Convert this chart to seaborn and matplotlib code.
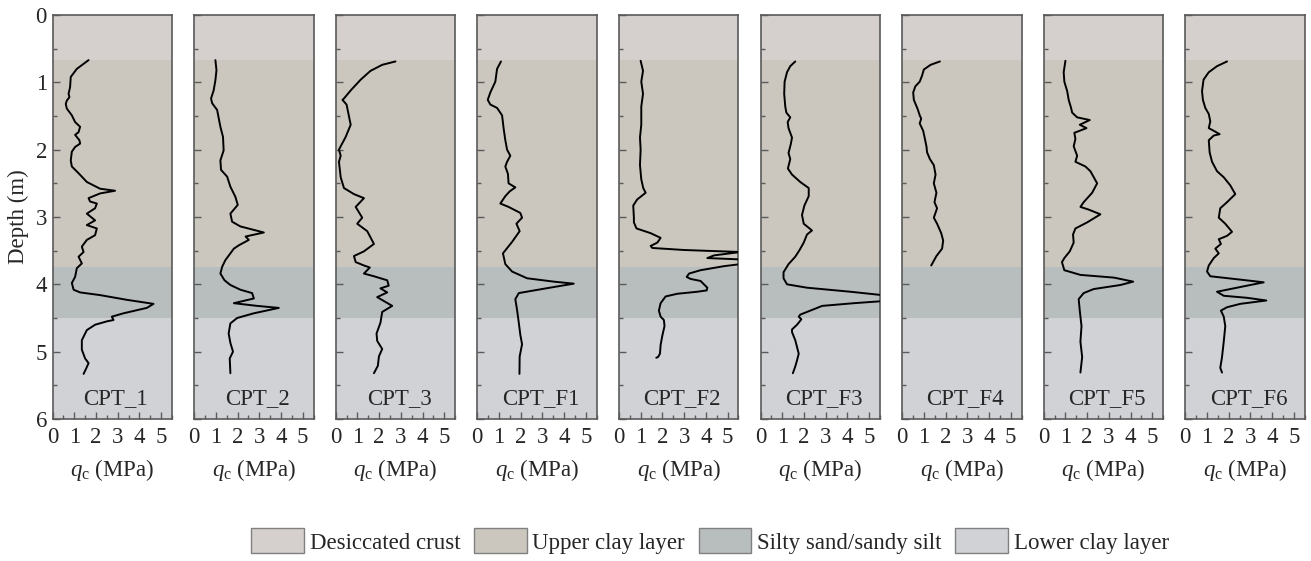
import matplotlib
matplotlib.use("Agg")
import matplotlib.pyplot as plt
from matplotlib.patches import Patch
from matplotlib.ticker import MultipleLocator
import seaborn as sns
import pandas as pd

# ---- CPT profiles: depth (m) and cone resistance q_c (MPa) ----
cpt1_depth = [0.67, 0.80, 0.92, 1.07, 1.17, 1.22, 1.27, 1.32, 1.39, 1.49, 1.59, 1.66, 1.74, 1.78, 1.86, 1.91,
              1.96, 2.03, 2.16, 2.25, 2.35, 2.48, 2.58, 2.61, 2.65, 2.72, 2.77, 2.80, 2.87, 2.95, 3.05, 3.12,
              3.17, 3.27, 3.34, 3.44, 3.52, 3.59, 3.69, 3.76, 3.89, 3.98, 4.08, 4.12, 4.16, 4.23, 4.29, 4.35,
              4.43, 4.48, 4.53, 4.55, 4.60, 4.68, 4.83, 4.97, 5.10, 5.17, 5.25, 5.33]
cpt1_qc = [1.66, 1.12, 0.84, 0.81, 0.74, 0.78, 0.66, 0.61, 0.66, 0.89, 1.04, 1.27, 1.20, 1.04, 1.24, 1.27,
           1.04, 0.89, 0.84, 0.89, 1.20, 1.58, 2.19, 2.88, 2.19, 1.66, 1.73, 2.04, 1.96, 1.58, 1.96, 1.58,
           2.04, 1.96, 1.58, 1.35, 1.43, 1.20, 1.35, 1.12, 1.04, 0.89, 0.97, 1.27, 2.19, 3.42, 4.65, 4.34,
           3.27, 2.73, 2.81, 2.50, 1.96, 1.58, 1.35, 1.35, 1.50, 1.66, 1.55, 1.43]

cpt2_depth = [0.67, 0.82, 0.97, 1.12, 1.24, 1.31, 1.41, 1.66, 1.81, 2.01, 2.16, 2.30, 2.40, 2.55, 2.70, 2.82,
              2.95, 3.07, 3.14, 3.23, 3.29, 3.34, 3.42, 3.47, 3.54, 3.64, 3.74, 3.84, 3.94, 4.01, 4.08, 4.13,
              4.21, 4.28, 4.32, 4.35, 4.43, 4.50, 4.58, 4.73, 4.87, 5.00, 5.10, 5.32]
cpt2_qc = [0.98, 1.03, 0.98, 0.90, 0.78, 0.83, 1.06, 1.21, 1.33, 1.36, 1.21, 1.24, 1.52, 1.67, 1.90, 2.01,
           1.67, 1.75, 2.13, 3.21, 2.37, 2.52, 2.06, 1.83, 1.67, 1.44, 1.29, 1.21, 1.40, 1.67, 2.13, 2.67,
           2.75, 1.83, 2.90, 3.90, 2.75, 1.98, 1.67, 1.59, 1.67, 1.79, 1.64, 1.67]

cpt3_depth = [0.69, 0.74, 0.83, 0.96, 1.12, 1.24, 1.26, 1.33, 1.63, 1.81, 1.95, 2.00, 2.09, 2.18, 2.41, 2.57,
              2.66, 2.72, 2.85, 3.01, 3.10, 3.21, 3.40, 3.51, 3.58, 3.67, 3.72, 3.75, 3.84, 3.88, 3.94, 4.02,
              4.06, 4.12, 4.19, 4.32, 4.41, 4.57, 4.73, 4.84, 4.96, 5.07, 5.21, 5.32]
cpt3_qc = [2.75, 2.14, 1.60, 1.15, 0.69, 0.38, 0.31, 0.50, 0.69, 0.46, 0.23, 0.15, 0.23, 0.15, 0.23, 0.38,
           0.84, 1.30, 0.92, 1.22, 0.99, 1.45, 1.76, 1.30, 0.84, 0.92, 1.30, 1.57, 1.30, 1.76, 2.37, 2.44,
           2.06, 2.37, 1.91, 2.60, 2.14, 2.06, 1.88, 1.91, 2.14, 1.99, 1.94, 1.76]

cptf1_depth = [0.69, 0.80, 0.99, 1.15, 1.26, 1.33, 1.38, 1.49, 1.68, 1.86, 2.00, 2.09, 2.18, 2.25, 2.36, 2.50,
               2.56, 2.62, 2.69, 2.80, 2.85, 2.94, 3.01, 3.10, 3.21, 3.37, 3.54, 3.70, 3.81, 3.91, 3.96, 3.99,
               4.04, 4.10, 4.13, 4.22, 4.38, 4.57, 4.75, 4.89, 5.07, 5.33]
cptf1_qc = [1.09, 0.91, 0.83, 0.60, 0.48, 0.60, 0.91, 1.14, 1.21, 1.29, 1.37, 1.52, 1.37, 1.29, 1.41, 1.44,
            1.75, 1.49, 1.29, 1.06, 1.44, 1.98, 2.06, 1.80, 1.95, 1.60, 1.18, 1.29, 1.60, 2.29, 3.52, 4.44,
            3.52, 2.44, 1.91, 1.75, 1.83, 1.91, 1.98, 2.06, 1.95, 1.94]

cptf2_depth = [0.68, 0.83, 0.99, 1.17, 1.36, 1.63, 1.82, 2.00, 2.23, 2.44, 2.57, 2.64, 2.74, 2.83, 3.01, 3.08,
               3.17, 3.24, 3.31, 3.38, 3.43, 3.46, 3.49, 3.52, 3.57, 3.61, 3.63, 3.70, 3.73, 3.79, 3.84, 3.89,
               3.92, 3.95, 4.05, 4.09, 4.11, 4.14, 4.18, 4.28, 4.39, 4.48, 4.53, 4.62, 4.76, 4.90, 5.03, 5.08,
               5.09]
cptf2_qc = [1.00, 1.11, 1.03, 1.11, 1.03, 1.03, 0.97, 1.00, 0.97, 1.03, 1.12, 1.23, 0.84, 0.66, 0.69, 0.69,
            0.81, 1.46, 1.92, 1.77, 1.46, 1.54, 3.00, 5.60, 4.38, 4.07, 5.60, 5.60, 4.84, 3.76, 3.23, 3.12,
            3.30, 3.76, 4.07, 4.04, 3.61, 2.69, 2.15, 1.92, 1.84, 1.92, 2.07, 2.10, 2.00, 1.92, 1.89, 1.80,
            1.72]

cptf3_depth = [0.69, 0.76, 0.85, 0.99, 1.17, 1.36, 1.45, 1.52, 1.59, 1.68, 1.82, 1.91, 2.05, 2.14, 2.28, 2.37,
               2.48, 2.57, 2.69, 2.83, 2.97, 3.10, 3.20, 3.26, 3.38, 3.49, 3.59, 3.70, 3.82, 3.91, 4.00, 4.05,
               4.11, 4.16, 4.25, 4.28, 4.32, 4.37, 4.45, 4.48, 4.52, 4.60, 4.67, 4.71, 4.83, 5.03, 5.13, 5.22,
               5.32]
cptf3_qc = [1.60, 1.37, 1.22, 1.11, 1.09, 1.14, 1.19, 1.37, 1.25, 1.29, 1.45, 1.40, 1.29, 1.37, 1.26, 1.45,
            1.83, 2.22, 2.22, 2.02, 1.91, 1.99, 2.37, 2.14, 1.99, 1.80, 1.60, 1.29, 1.06, 1.06, 1.22, 2.14,
            4.14, 5.60, 5.60, 4.30, 2.84, 2.45, 1.83, 1.76, 1.88, 1.68, 1.45, 1.45, 1.60, 1.76, 1.68, 1.60,
            1.49]

cptf4_depth = [0.69, 0.74, 0.81, 0.90, 0.99, 1.06, 1.15, 1.26, 1.40, 1.49, 1.54, 1.61, 1.72, 1.81, 1.95, 2.04,
               2.14, 2.23, 2.37, 2.50, 2.64, 2.78, 2.87, 3.01, 3.10, 3.24, 3.35, 3.47, 3.58, 3.72]
cptf4_qc = [1.74, 1.31, 1.00, 0.92, 0.81, 0.61, 0.51, 0.54, 0.72, 0.81, 0.88, 0.81, 0.97, 1.03, 1.12, 1.15,
            1.28, 1.46, 1.54, 1.46, 1.58, 1.49, 1.61, 1.46, 1.61, 1.80, 1.89, 1.84, 1.58, 1.34]

cptf5_depth = [0.68, 0.85, 0.99, 1.13, 1.26, 1.38, 1.45, 1.52, 1.56, 1.63, 1.68, 1.75, 1.84, 1.95, 2.09, 2.18,
               2.25, 2.32, 2.50, 2.64, 2.78, 2.85, 2.89, 2.96, 3.08, 3.17, 3.26, 3.38, 3.51, 3.61, 3.67, 3.79,
               3.86, 3.90, 3.96, 4.01, 4.07, 4.13, 4.22, 4.39, 4.62, 4.85, 5.08, 5.31]
cptf5_qc = [1.00, 0.92, 0.95, 1.08, 1.15, 1.26, 1.31, 1.54, 2.12, 1.66, 1.97, 1.41, 1.46, 1.38, 1.54, 1.46,
            1.92, 2.15, 2.46, 2.23, 1.84, 1.69, 2.07, 2.61, 2.00, 1.46, 1.35, 1.38, 1.20, 0.95, 0.84, 0.95,
            1.69, 3.23, 4.12, 3.53, 2.30, 1.84, 1.61, 1.66, 1.74, 1.69, 1.77, 1.69]

cptf6_depth = [0.69, 0.76, 0.85, 0.96, 1.13, 1.26, 1.38, 1.47, 1.58, 1.68, 1.72, 1.77, 1.79, 1.86, 2.04, 2.18,
               2.32, 2.41, 2.53, 2.66, 2.78, 2.87, 3.01, 3.10, 3.22, 3.28, 3.33, 3.40, 3.47, 3.54, 3.61, 3.72,
               3.81, 3.88, 3.93, 3.97, 4.04, 4.11, 4.17, 4.20, 4.24, 4.29, 4.34, 4.39, 4.48, 4.62, 4.85, 5.08,
               5.24, 5.31]
cptf6_qc = [1.92, 1.46, 1.08, 0.84, 0.77, 0.81, 0.92, 1.08, 1.15, 1.08, 1.31, 1.58, 1.31, 1.08, 1.12, 1.23,
            1.46, 1.77, 2.07, 2.30, 1.92, 1.61, 1.54, 1.84, 2.15, 1.92, 1.54, 1.64, 1.38, 1.54, 1.31, 1.08,
            1.00, 1.15, 2.53, 3.61, 2.53, 1.46, 1.77, 2.84, 3.73, 2.53, 1.92, 1.64, 1.77, 1.84, 1.77, 1.69,
            1.61, 1.69]

cpt_names = ["CPT_1", "CPT_2", "CPT_3", "CPT_F1", "CPT_F2", "CPT_F3", "CPT_F4", "CPT_F5", "CPT_F6"]
cpt_depths = [cpt1_depth, cpt2_depth, cpt3_depth, cptf1_depth, cptf2_depth, cptf3_depth,
              cptf4_depth, cptf5_depth, cptf6_depth]
cpt_qcs = [cpt1_qc, cpt2_qc, cpt3_qc, cptf1_qc, cptf2_qc, cptf3_qc, cptf4_qc, cptf5_qc, cptf6_qc]

# ---- soil stratigraphy ----
layer_names = ["Desiccated crust", "Upper clay layer", "Silty sand/sandy silt", "Lower clay layer"]
layer_tops = [0.0, 0.67, 3.74, 4.50]
layer_bottoms = [0.67, 3.74, 4.50, 6.0]
layer_colors = ["#d5cfcd", "#cbc7bf", "#b8bdbe", "#d0d2d6"]

# ---- style ----
sns.set_theme(style="ticks")
plt.rcParams["font.family"] = ["Liberation Serif", "DejaVu Serif"]
plt.rcParams["mathtext.fontset"] = "custom"
plt.rcParams["mathtext.rm"] = "Liberation Serif"
plt.rcParams["mathtext.it"] = "Liberation Serif:italic"
FS = 16.5
SPINE = "#5a5a5a"

W, H = 1311, 561
fig = plt.figure(figsize=(W / 100, H / 100), dpi=100)

ax_left0, ax_w, ax_step = 52.5, 119.5, 141.6
ax_top, ax_bot = 15, 419

for i, name in enumerate(cpt_names):
    ax = fig.add_axes([(ax_left0 + i * ax_step) / W, 1 - ax_bot / H,
                       ax_w / W, (ax_bot - ax_top) / H])
    for top, bot, col in zip(layer_tops, layer_bottoms, layer_colors):
        ax.axhspan(top, bot, color=col, lw=0, zorder=0)

    df = pd.DataFrame({"depth": cpt_depths[i], "qc": cpt_qcs[i]})
    sns.lineplot(data=df, x="qc", y="depth", sort=False, estimator=None,
                 color="black", lw=1.4, ax=ax, zorder=3)

    ax.set_xlim(0, 5.5)
    ax.set_ylim(6, 0)
    ax.xaxis.set_major_locator(MultipleLocator(1))
    ax.xaxis.set_minor_locator(MultipleLocator(0.5))
    ax.yaxis.set_major_locator(MultipleLocator(1))
    ax.yaxis.set_minor_locator(MultipleLocator(0.5))
    ax.tick_params(which="both", direction="in", color=SPINE, width=1.0,
                   labelsize=FS, top=False, right=False)
    ax.tick_params(which="major", length=5)
    ax.tick_params(axis="x", which="major", pad=6)
    ax.tick_params(axis="y", which="major", pad=4)
    ax.tick_params(which="minor", length=3)
    for sp in ax.spines.values():
        sp.set_color(SPINE)
        sp.set_linewidth(1.2)

    ax.set_xlabel(r"$q_{\mathrm{c}}$ (MPa)", fontsize=FS, labelpad=6)
    if i == 0:
        ax.set_ylabel("Depth (m)", fontsize=FS, labelpad=5)
    else:
        ax.set_ylabel("")
        ax.tick_params(axis="y", labelleft=False)

    ax.text(0.53, 5.7, name, fontsize=FS, ha="center", va="center",
            transform=ax.get_yaxis_transform())

handles = [Patch(facecolor=c, edgecolor="#808080", lw=1.0) for c in layer_colors]
fig.legend(handles, layer_names, loc="center", ncol=4, frameon=False,
           bbox_to_anchor=(710 / W, 1 - 541 / H), fontsize=FS,
           handlelength=2.3, handleheight=1.3, handletextpad=0.25,
           columnspacing=0.6, borderaxespad=0)

fig.savefig("out.png", dpi=100)
